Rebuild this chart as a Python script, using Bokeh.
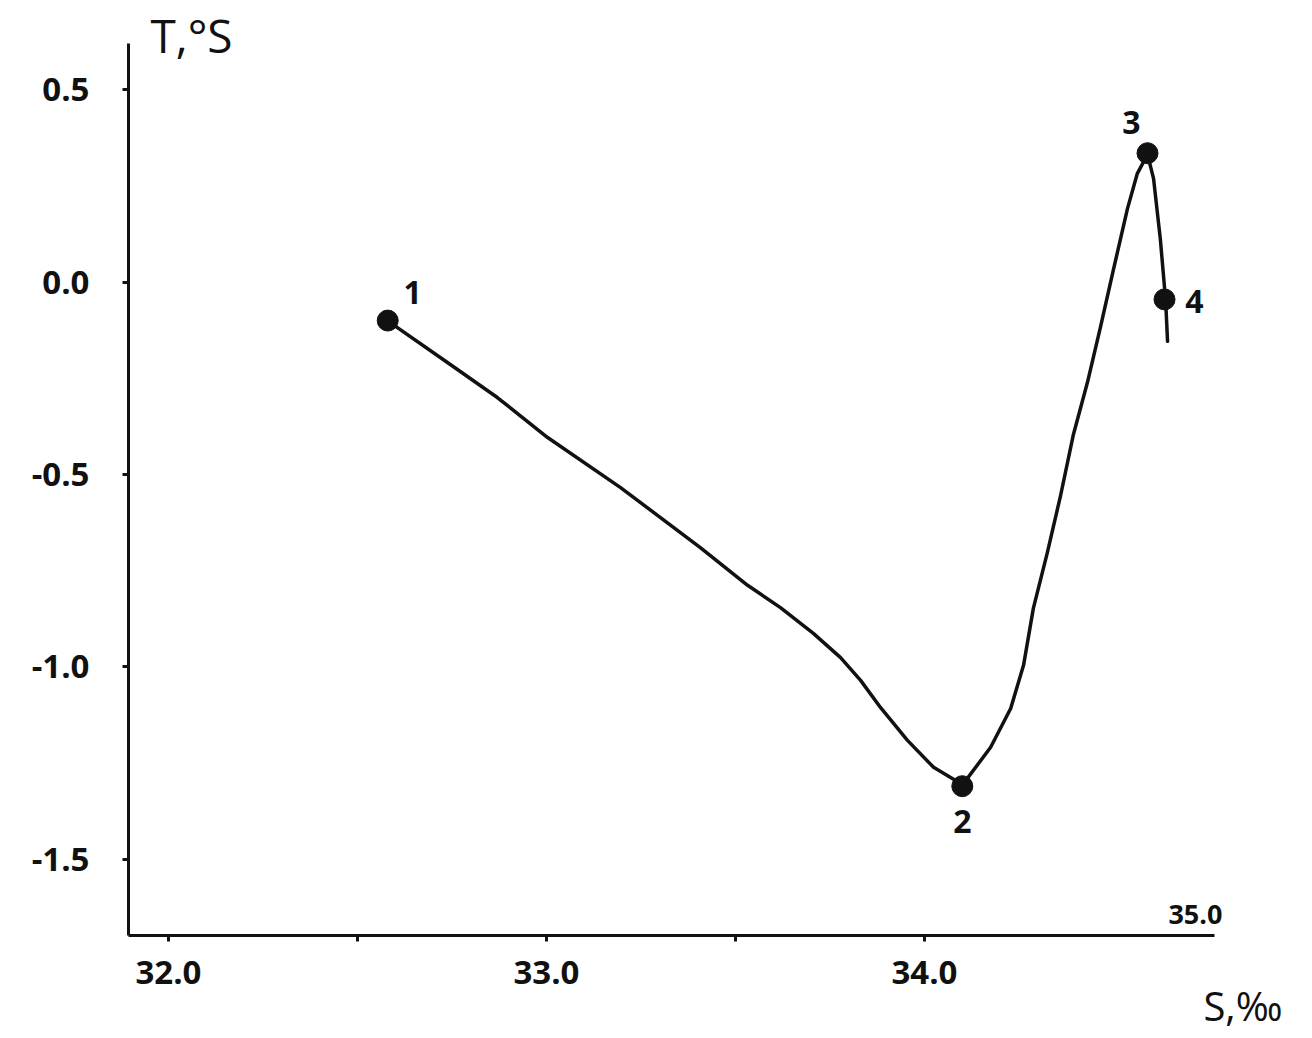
from bokeh.plotting import figure
from bokeh.models import Range1d, FixedTicker, Label, ColumnDataSource, PrintfTickFormatter
from bokeh.core.properties import value
from bokeh.embed import file_html
from bokeh.resources import INLINE

# ---- data ----
station_ids = ["1", "2", "3", "4"]
station_s = [32.58, 34.10, 34.59, 34.635]
station_t = [-0.10, -1.31, 0.335, -0.045]

# hand-drawn T-S curve
curve_s = [32.579, 32.738, 32.870, 33.003, 33.196, 33.407, 33.532, 33.619, 33.706,
           33.778, 33.831, 33.884, 33.955, 34.024, 34.101, 34.175, 34.228, 34.262,
           34.288, 34.325, 34.360, 34.394, 34.431, 34.466, 34.500, 34.537, 34.563,
           34.590, 34.606, 34.624, 34.638, 34.643]
curve_t = [-0.100, -0.209, -0.300, -0.404, -0.534, -0.690, -0.788, -0.846, -0.913,
           -0.976, -1.035, -1.106, -1.191, -1.261, -1.306, -1.209, -1.108, -0.996,
           -0.848, -0.703, -0.555, -0.396, -0.261, -0.115, 0.033, 0.191, 0.282,
           0.332, 0.269, 0.111, -0.048, -0.154]

x_ticks = [32.0, 33.0, 34.0]
x_minor_ticks = [32.5, 33.5]
x_end_label = "35.0"
y_ticks = [0.5, 0.0, -0.5, -1.0, -1.5]
x_title = "S,‰"
y_title = "T,°S"

label_dx = [25, 0, -16, 30]
label_dy = [-28, 35, -31, 2]

# drawn extent of the axes (data units)
S_AXIS = (31.894, 34.767)
T_AXIS = (-1.698, 0.620)

FONT = "Open Sans"
INK = "#111111"

W, H = 1308, 1034
p = figure(width=W, height=H, output_backend="svg", toolbar_location=None,
           x_range=Range1d(31.5556, 35.0159), y_range=Range1d(-1.9553, 0.7318),
           min_border=0, min_border_left=0, min_border_right=0,
           min_border_top=0, min_border_bottom=0)
p.outline_line_color = None
p.xgrid.visible = False
p.ygrid.visible = False
p.background_fill_color = "white"
p.border_fill_color = "white"

for ax in (p.xaxis[0], p.yaxis[0]):
    ax.axis_line_width = 3
    ax.axis_line_color = INK
    ax.major_tick_line_width = 3
    ax.major_tick_line_color = INK
    ax.major_tick_out = 6
    ax.major_tick_in = 0
    ax.minor_tick_line_width = 3
    ax.minor_tick_line_color = INK
    ax.minor_tick_out = 6
    ax.minor_tick_in = 0
    ax.major_label_text_font = FONT
    ax.major_label_text_font_style = "bold"
    ax.major_label_text_color = INK
    ax.major_label_text_font_size = "33px"
    ax.formatter = PrintfTickFormatter(format="%.1f")

xa = p.xaxis[0]
xa.ticker = FixedTicker(ticks=x_ticks, minor_ticks=x_minor_ticks)
xa.major_label_standoff = 20
xa.fixed_location = T_AXIS[0]
xa.bounds = S_AXIS

ya = p.yaxis[0]
ya.ticker = FixedTicker(ticks=y_ticks, minor_ticks=[])
ya.major_label_standoff = 33
ya.fixed_location = S_AXIS[0]
ya.bounds = T_AXIS

p.line(curve_s, curve_t, line_width=3.5, line_color=INK, line_join="round", line_cap="round")
p.scatter(station_s, station_t, size=21, fill_color=INK, line_color=INK)

src = ColumnDataSource(dict(x=station_s, y=station_t, t=station_ids, dx=label_dx, dy=label_dy))
p.text(x="x", y="y", text="t", x_offset="dx", y_offset="dy", source=src,
       text_align="center", text_baseline="middle", text_font=value(FONT),
       text_font_style="bold", text_font_size="32px", text_color=INK)

p.add_layout(Label(x=S_AXIS[0], y=T_AXIS[1], x_offset=22, y_offset=9,
                   text=y_title, text_font=FONT, text_font_size="46px",
                   text_color=INK, text_baseline="alphabetic"))
p.add_layout(Label(x=S_AXIS[1], y=T_AXIS[0], x_offset=-19, y_offset=21,
                   text=x_end_label, text_font=FONT, text_font_style="bold",
                   text_font_size="27px", text_color=INK, text_align="center",
                   text_baseline="alphabetic"))
p.add_layout(Label(x=S_AXIS[1], y=T_AXIS[0], x_offset=-11, y_offset=-70,
                   text=x_title, text_font=FONT, text_font_size="40px",
                   text_color=INK, text_baseline="alphabetic"))

open("out.html", "w").write(file_html(p, INLINE))
